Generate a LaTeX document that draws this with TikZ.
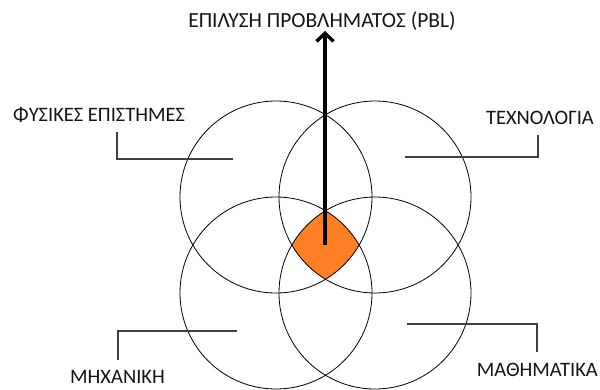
\documentclass[tikz,border=0pt]{standalone}
\usepackage{fontspec}
\setmainfont{Carlito}
\usetikzlibrary{arrows.meta}
\definecolor{pblorange}{RGB}{255,127,39}
\definecolor{leadgray}{RGB}{64,64,64}
\definecolor{txt}{RGB}{20,20,20}
\begin{document}
\begin{tikzpicture}[x=1pt,y=-1pt,
  ring/.style={draw=black,line width=0.8pt,circle,minimum size=192pt,inner sep=0pt,outer sep=0pt},
  lbl/.style={font=\fontsize{20.5}{24}\selectfont,text=txt,inner sep=0pt},
  leader/.style={draw=leadgray,line width=1.4pt},
  bigarrow/.style={line width=3.4pt,-{Straight Barb[length=8pt,width=17pt]}}]
\useasboundingbox (0,0) rectangle (600,389);
% circle centres
\coordinate (ctl) at (276,197);
\coordinate (ctr) at (375,197);
\coordinate (cbl) at (276,293);
\coordinate (cbr) at (375,293);
% common region
\begin{scope}
  \clip (ctl) circle[radius=96pt];
  \clip (ctr) circle[radius=96pt];
  \clip (cbl) circle[radius=96pt];
  \fill[pblorange] (cbr) circle[radius=96pt];
\end{scope}
% circles
\node[ring] (tl) at (ctl) {};
\node[ring] (tr) at (ctr) {};
\node[ring] (bl) at (cbl) {};
\node[ring] (br) at (cbr) {};
% labels
\node[lbl,font=\fontsize{21.5}{25}\selectfont] (pbl) at (322,21) {ΕΠΙΛΥΣΗ ΠΡΟΒΛΗΜΑΤΟΣ (PBL)};
\node[lbl,anchor=west] (fys) at (13,115) {ΦΥΣΙΚΕΣ ΕΠΙΣΤΗΜΕΣ};
\node[lbl,anchor=east] (tech) at (594,118) {ΤΕΧΝΟΛΟΓΙΑ};
\node[lbl,anchor=west] (mech) at (70,377) {ΜΗΧΑΝΙΚΗ};
\node[lbl,anchor=east] (math) at (598,370) {ΜΑΘΗΜΑΤΙΚΑ};
% leaders
\coordinate (fysA) at (117,132); \coordinate (fysB) at (233,159);
\coordinate (techA) at (538,135); \coordinate (techB) at (405,157);
\coordinate (mechA) at (118,360); \coordinate (mechB) at (237,331);
\coordinate (mathA) at (537,352); \coordinate (mathB) at (407,324);
\draw[leader] (fysA) |- (fysB);
\draw[leader] (techA) |- (techB);
\draw[leader] (mechA) |- (mechB);
\draw[leader] (mathA) |- (mathB);
% arrow
\coordinate (core) at (325,245);
\coordinate (tip) at (325,31);
\draw[bigarrow] (core) -- (tip);
\end{tikzpicture}
\end{document}
